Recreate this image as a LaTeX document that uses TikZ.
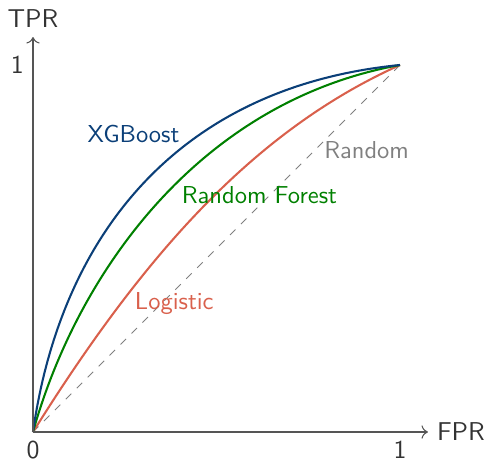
\documentclass[tikz,border=0pt]{standalone}
\renewcommand{\familydefault}{\sfdefault}
\usetikzlibrary{arrows.meta}
\definecolor{xgbblue}{HTML}{0B3F78}
\definecolor{rfgreen}{HTML}{008000}
\definecolor{logred}{HTML}{D9604C}
\definecolor{axisgray}{HTML}{555555}
\definecolor{txtgray}{HTML}{333333}
\begin{document}
\begin{tikzpicture}[x=5cm,y=5cm,
  axisline/.style={draw=axisgray,line width=0.4pt,->},
  axislabel/.style={text=txtgray},
  ticklabel/.style={text=txtgray},
  roc/.style={line width=0.8pt},
  randline/.style={draw=gray,dashed,line width=0.4pt},
  curvelabel/.style={inner sep=1pt,font=\fontsize{9.5}{11}\selectfont}]
\useasboundingbox (-0.0899,-0.0817) rectangle (1.2425,1.1771);
\coordinate (O) at (0,0);
\coordinate (X1) at (1,0);
\coordinate (Y1) at (0,1);
\coordinate (T) at (1,1);
\coordinate (XE) at (1.076,0);
\coordinate (YE) at (0,1.076);
% random diagonal
\draw[randline] (O) -- (T);
% curves
\draw[roc,logred] (O) .. controls (0.3,0.48) and (0.6,0.82) .. (T);
\draw[roc,rfgreen] (O) .. controls (0.12,0.43) and (0.45,0.9) .. (T);
\draw[roc,xgbblue] (O) .. controls (0.075,0.53) and (0.39,0.94) .. (T);
% axes
\draw[axisline] (O) -- (XE);
\draw[axisline] (O) -- (YE);
\node[axislabel,right] (fpr) at (XE) {FPR};
\node[axislabel,above] (tpr) at (YE) {TPR};
\node[ticklabel,below] (t0) at (O) {0};
\node[ticklabel,below] (tx1) at (X1) {1};
\node[ticklabel,left] (ty1) at (Y1) {1};
% curve labels
\node[curvelabel,text=xgbblue] (lxgb) at (0.274,0.811) {XGBoost};
\node[curvelabel,text=rfgreen] (lrf) at (0.617,0.645) {Random Forest};
\node[curvelabel,text=logred] (llog) at (0.385,0.349) {Logistic};
\node[curvelabel,text=gray] (lrand) at (0.909,0.768) {Random};
\end{tikzpicture}
\end{document}
